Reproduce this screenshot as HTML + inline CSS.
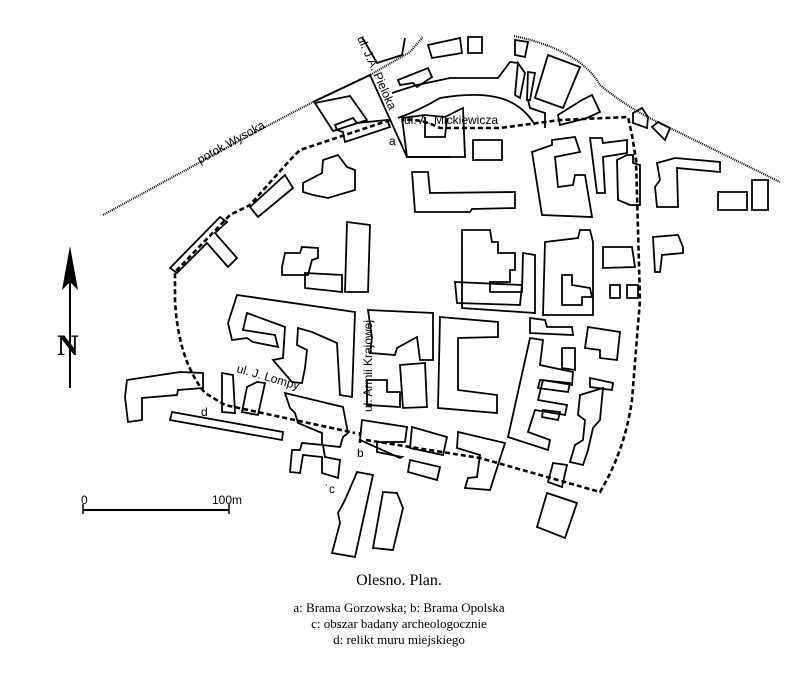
<!DOCTYPE html>
<html><head><meta charset="utf-8"><style>
html,body{margin:0;padding:0;background:#fff;}
svg{display:block;}
.b{fill:none;stroke:#000;stroke-width:1.8;stroke-linejoin:miter;}
.t{font-family:"Liberation Sans",sans-serif;font-size:12px;fill:#000;}
.s{font-family:"Liberation Serif",serif;fill:#000;}
</style></head><body>
<svg width="800" height="686" viewBox="0 0 800 686" xmlns="http://www.w3.org/2000/svg">
<path d="M103,215 L250,135 L313,102 L370,75 L410,52 L423,37" fill="none" stroke="#000" stroke-width="2" stroke-dasharray="1,1"/>
<path d="M514,36 Q580,50 600,85 Q630,110 670,128 L780,182" fill="none" stroke="#000" stroke-width="2" stroke-dasharray="1,1"/>
<text class="t" transform="translate(200,164) rotate(-29)">potok Wysoka</text>
<path class="b" d="M313,102 L370,75 L407,157 L450,157"/>
<path class="b" d="M362,37 L377,63 L402,55 L405,38"/>
<path class="b" d="M392,93 L417,85 L450,78 L498,78 L510,62 L518,63"/>
<path class="b" d="M398,118 Q420,110 440,98 Q470,93 490,96 Q520,100 535,125"/>
<g class="b">
<polygon points="315,103 350,96 367,120 333,131"/>
<polygon points="335,125 353,118 357,123 387,120 390,127 345,142 343,132 337,130"/>
<polygon points="303,183 322,173 323,160 338,155 347,167 355,170 355,190 328,198 313,195 303,192"/>
<polygon points="250,207 285,175 293,188 258,217"/>
<polygon points="170,268 220,217 227,222 215,233 237,258 228,267 207,243 177,273"/>
<polygon points="282,267 285,253 300,253 302,247 318,248 318,258 312,260 308,275 282,275"/>
<polygon points="305,273 342,275 342,292 305,288"/>
<polygon points="347,222 370,225 368,292 345,292"/>
<polygon points="398,80 428,68 432,77 417,87 413,83 400,85"/>
<polygon points="428,45 460,38 462,53 432,58"/>
<polygon points="468,37 482,37 482,53 468,53"/>
<polygon points="515,40 528,42 525,57 515,55"/>
<polygon points="518,63 515,95 520,98 525,73"/>
<polygon points="528,72 535,73 530,100 527,100"/>
<polygon points="548,55 580,67 563,108 535,98"/>
<polyline points="528,100 530,108 545,113 545,128"/>
<polygon points="558,115 582,100 592,95 600,112 587,118 560,125"/>
<polygon points="633,113 642,108 648,117 647,128 633,123"/>
<polygon points="652,127 658,122 670,128 665,140"/>
<polygon points="402,118 425,115 445,117 463,108 465,157 407,157"/>
<polyline points="425,117 425,137 445,137 447,118"/>
<polygon points="473,140 502,140 502,160 473,160"/>
<polygon points="412,172 428,172 430,193 515,192 515,208 472,209 470,212 415,212"/>
<polygon points="532,152 552,145 552,140 575,137 580,152 555,157 558,187 573,185 575,175 585,175 592,217 542,215"/>
<polygon points="590,138 602,138 603,143 627,140 627,153 603,157 605,193 597,193"/>
<polygon points="617,160 627,155 633,155 633,163 640,165 640,205 630,205 618,200"/>
<polygon points="657,163 675,158 720,162 720,172 677,168 678,207 657,207 655,187 660,180"/>
<polygon points="718,192 747,192 747,210 718,210"/>
<polygon points="752,180 768,180 768,210 752,210"/>
<polygon points="462,230 490,230 492,242 498,242 498,253 515,253 515,270 510,270 510,282 490,282 490,292 522,292 523,253 535,255 535,313 462,308"/>
<polygon points="545,242 578,238 580,230 590,230 593,242 593,315 543,315"/>
<polygon points="562,275 572,275 572,285 590,288 592,297 582,297 582,305 562,305"/>
<polygon points="603,247 632,247 635,267 603,268"/>
<polygon points="653,237 678,235 683,247 683,253 662,255 660,272 655,272"/>
<polygon points="627,285 638,285 638,298 627,298"/>
<polygon points="610,285 620,285 620,298 610,298"/>
<polygon points="127,380 180,372 203,373 203,388 178,390 177,395 142,398 142,420 128,422 125,397"/>
<polygon points="172,412 283,432 282,440 170,420"/>
<polygon points="222,373 233,375 235,413 222,412"/>
<polygon points="247,387 257,382 265,383 258,415 242,412"/>
<polygon points="237,295 355,312 352,397 340,395 337,343 312,332 298,328 297,345 307,350 305,368 302,383 292,382 273,360 283,358 285,327 247,313 243,330 275,335 278,347 253,342 247,338 232,340 228,323"/>
<polygon points="285,393 343,407 348,433 343,437 340,447 322,445 322,433 310,428 298,423 295,413 290,408"/>
<polygon points="292,450 300,450 302,443 323,445 325,457 340,460 338,478 322,473 322,457 303,455 300,473 290,472"/>
<polygon points="357,472 373,475 355,557 332,553 340,523 338,513 345,500"/>
<polygon points="383,492 397,493 403,508 393,550 373,548"/>
<polygon points="368,310 433,313 433,360 420,360 417,337 397,348 395,355 370,353 372,338"/>
<polygon points="367,380 387,380 387,392 400,392 400,407 367,405"/>
<polygon points="400,365 425,363 427,407 403,408"/>
<polygon points="440,317 498,322 498,337 458,338 458,390 497,395 497,413 438,408"/>
<polygon points="362,420 407,427 405,442 377,442 377,452 402,457 400,458 360,440"/>
<polygon points="412,427 447,437 443,455 410,448"/>
<polygon points="410,460 440,467 437,480 408,472"/>
<polygon points="458,432 505,443 490,490 465,488 468,478 477,477 480,455 457,448"/>
<polygon points="455,282 522,285 520,305 457,303"/>
<polygon points="530,338 543,340 540,365 573,372 572,385 543,380 538,400 567,405 565,415 535,410 528,432 550,440 548,450 508,437"/>
<polygon points="540,380 570,383 568,392 538,388"/>
<polygon points="543,410 560,412 558,420 542,417"/>
<polygon points="562,348 575,348 575,370 562,368"/>
<polygon points="530,318 545,320 547,327 572,327 573,335 530,333"/>
<polygon points="588,327 620,332 617,360 600,358 600,350 585,348"/>
<polygon points="590,378 613,383 612,390 590,387"/>
<polygon points="580,395 603,388 600,420 593,428 588,450 583,465 570,462 575,445 583,440 585,420 578,415"/>
<polygon points="553,463 567,465 562,487 548,482"/>
<polygon points="547,493 577,503 565,538 537,527"/>
</g>
<path d="M390,120 L345,135 L300,150 L290,160 L250,205 L230,215 L175,272 L175,300 Q178,360 205,393 L225,405 L355,433 M366,440 L480,458 L600,492 Q625,450 632,400 L640,300 L636,160 L632,135 L628,117 L560,120 L500,128 L440,128 Q420,118 402,120" fill="none" stroke="#000" stroke-width="2.6" stroke-dasharray="5,3"/>
<line x1="360" y1="432" x2="360" y2="445" stroke="#000" stroke-width="2.6" stroke-dasharray="4,3"/>
<text class="t" transform="translate(357,38) rotate(66)">ul. J.A. Pieloka</text>
<text class="t" x="404" y="124">ul. A. Mickiewicza</text>
<text class="t" transform="translate(236,372) rotate(16)">ul. J. Lompy</text>
<text class="t" transform="translate(372,412) rotate(-90)">ul. Armii Krajowej</text>
<text class="t" x="389" y="145">a</text>
<text class="t" x="357" y="457">b</text>
<text class="t" x="325" y="493">˙c</text>
<text class="t" x="201" y="416">d</text>
<line x1="70" y1="280" x2="70" y2="388" stroke="#000" stroke-width="2"/>
<polygon points="70,246 62,290 70,282 78,290" fill="#000"/>
<text class="s" x="57" y="355" font-size="30" font-weight="bold">N</text>
<line x1="83" y1="510" x2="229" y2="510" stroke="#000" stroke-width="2"/>
<line x1="83" y1="504" x2="83" y2="514" stroke="#000" stroke-width="1.5"/>
<line x1="229" y1="504" x2="229" y2="514" stroke="#000" stroke-width="1.5"/>
<text class="t" x="81" y="504" font-size="11">0</text>
<text class="t" x="212" y="504" font-size="11">100m</text>
<text class="s" x="399" y="585" font-size="16" text-anchor="middle">Olesno. Plan.</text>
<text class="s" x="399" y="612" font-size="13" text-anchor="middle">a: Brama Gorzowska; b: Brama Opolska</text>
<text class="s" x="399" y="628" font-size="13" text-anchor="middle">c: obszar badany archeologocznie</text>
<text class="s" x="399" y="644" font-size="13" text-anchor="middle">d: relikt muru miejskiego</text>
</svg>
</body></html>
